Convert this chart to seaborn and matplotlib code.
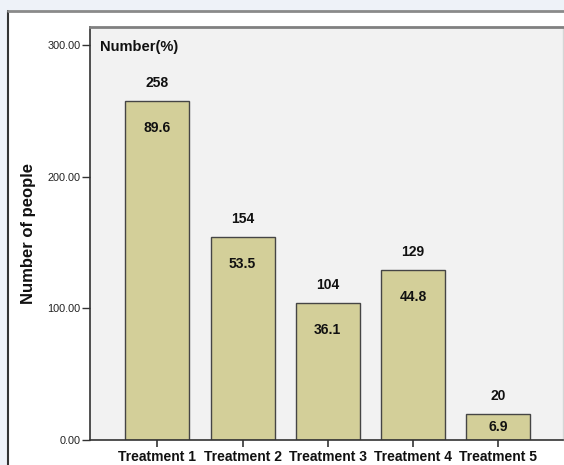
import matplotlib
matplotlib.use("Agg")
import matplotlib.pyplot as plt
from matplotlib.patches import Rectangle
from matplotlib.lines import Line2D
import seaborn as sns

categories = ["Treatment 1", "Treatment 2", "Treatment 3", "Treatment 4", "Treatment 5"]
counts = [258, 154, 104, 129, 20]
percents = [89.6, 53.5, 36.1, 44.8, 6.9]
y_ticks = [0, 100, 200, 300]

sns.set_theme(style="white")
plt.rcParams["font.family"] = ["Liberation Sans", "DejaVu Sans"]

W, H = 564, 465
fig = plt.figure(figsize=(W / 100, H / 100), dpi=100)
fig.patch.set_facecolor("#eef2f8")

# white report panel behind the chart
px, py = 8 / W, (H - 11) / H
fig.add_artist(Rectangle((px, 0), 1 - px, py, transform=fig.transFigure,
                         facecolor="white", edgecolor="none", zorder=0))
fig.add_artist(Line2D([px, px], [0, py], transform=fig.transFigure,
                      color="#333333", lw=1.5, zorder=1))
fig.add_artist(Line2D([px, 1], [py, py], transform=fig.transFigure,
                      color="#8a8a8a", lw=2, zorder=1))

left, right, bottom, top = 90 / W, 563 / W, (H - 440) / H, (H - 27) / H
ax = fig.add_axes([left, bottom, right - left, top - bottom])
ax.set_facecolor("#f2f2f2")

sns.barplot(x=categories, y=counts, color="#d3cf99", saturation=1,
            width=0.75, edgecolor="#454545", linewidth=1.0, ax=ax, zorder=2)

ax.set_xlim(-0.79, 4.76)
ax.set_ylim(0, 314)
ax.set_yticks(y_ticks)
ax.set_yticklabels([f"{v:.2f}" for v in y_ticks], fontsize=7.8, color="#222222")
ax.tick_params(axis="y", direction="out", length=6, width=1, color="#333333",
               pad=1, left=True)
ax.tick_params(axis="x", direction="out", length=5, width=1.2, color="#333333",
               pad=2.5, bottom=True)
for lab in ax.get_xticklabels():
    lab.set_fontsize(10)
    lab.set_fontweight("bold")
    lab.set_color("#111111")

ax.set_xlabel("")
ax.set_ylabel("Number of people", fontsize=12, fontweight="bold",
              color="#111111", labelpad=8)

for side in ["left", "bottom"]:
    ax.spines[side].set_color("#333333")
    ax.spines[side].set_linewidth(1.2)
ax.spines["top"].set_color("#808080")
ax.spines["top"].set_linewidth(2)
ax.spines["right"].set_color("#d6d6d6")
ax.spines["right"].set_linewidth(1)

ax.text(0.021, 0.952, "Number(%)", transform=ax.transAxes, fontsize=10.5,
        fontweight="bold", ha="left", va="center", color="#111111")

for i, (c, p) in enumerate(zip(counts, percents)):
    ax.annotate(f"{c}", (i, c), xytext=(0, 13), textcoords="offset points",
                ha="center", va="center", fontsize=10, fontweight="bold",
                color="#111111")
    y_in = max(c - 20.5, c / 2)
    ax.text(i, y_in, f"{p:.1f}", ha="center", va="center", fontsize=10,
            fontweight="bold", color="#111111", zorder=3)

fig.savefig("out.png", dpi=100, facecolor=fig.get_facecolor())
